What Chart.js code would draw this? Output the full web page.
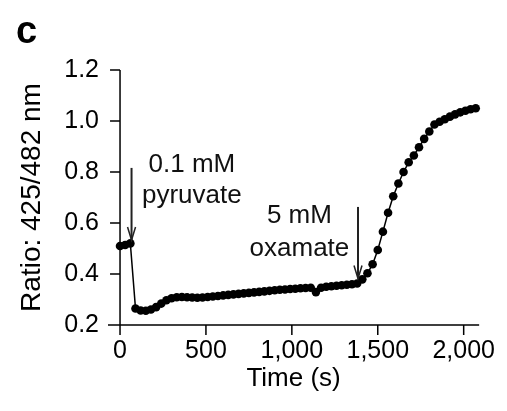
<!DOCTYPE html>
<html>
<head>
<meta charset="utf-8">
<script src="https://cdn.jsdelivr.net/npm/chart.js@4.4.1/dist/chart.umd.min.js"></script>
<style>
  html, body { margin: 0; padding: 0; background: #fff; }
</style>
</head>
<body>
<canvas id="chart" width="507" height="411"></canvas>
<script>
// time points (s) and 425/482 nm ratio
const timeSec = [
  0, 30, 60, 90, 120, 150, 180, 210, 240, 270,
  300, 330, 360, 390, 420, 450, 480, 510, 540, 570,
  600, 630, 660, 690, 720, 750, 780, 810, 840, 870,
  900, 930, 960, 990, 1020, 1050, 1080, 1110, 1140, 1170,
  1200, 1230, 1260, 1290, 1320, 1350, 1380, 1410, 1440, 1470,
  1500, 1530, 1560, 1590, 1620, 1650, 1680, 1710, 1740, 1770,
  1800, 1830, 1860, 1890, 1920, 1950, 1980, 2010, 2040, 2070
];
const ratio = [
  0.510, 0.514, 0.520, 0.265, 0.257, 0.256, 0.261, 0.270, 0.284, 0.297,
  0.305, 0.309, 0.310, 0.309, 0.308, 0.307, 0.308, 0.310, 0.312, 0.314,
  0.316, 0.318, 0.320, 0.322, 0.324, 0.326, 0.328, 0.330, 0.332, 0.334,
  0.336, 0.338, 0.339, 0.341, 0.342, 0.344, 0.345, 0.346, 0.329, 0.346,
  0.350, 0.352, 0.354, 0.356, 0.358, 0.360, 0.363, 0.379, 0.403, 0.438,
  0.494, 0.566, 0.640, 0.705, 0.755, 0.800, 0.838, 0.865, 0.897, 0.930,
  0.959, 0.986, 0.997, 1.007, 1.017, 1.026, 1.034, 1.040, 1.046, 1.050
];

const xTicks = [0, 500, 1000, 1500, 2000];
const xTickLabels = ['0', '500', '1,000', '1,500', '2,000'];
const yTicks = [0.2, 0.4, 0.6, 0.8, 1.0, 1.2];
const yTickLabels = ['0.2', '0.4', '0.6', '0.8', '1.0', '1.2'];

// additions marked by arrows (time, arrow top, arrow tip) and their labels
const additions = [
  { t: 67, top: 0.816, tip: 0.533, lines: ['0.1 mM', 'pyruvate'], labelT: 418, labelY: [0.800, 0.680] },
  { t: 1385, top: 0.663, tip: 0.382, lines: ['5 mM', 'oxamate'], labelT: 1044, labelY: [0.600, 0.470] }
];

const FONT = "'Liberation Sans', Arial, Helvetica, sans-serif";

const axesPlugin = {
  id: 'axesPlugin',
  beforeDatasetsDraw(chart) {
    const ctx = chart.ctx;
    const x = chart.scales.x, y = chart.scales.y;
    const x0 = x.getPixelForValue(0);
    const yb = y.getPixelForValue(0.2);
    const yt = y.getPixelForValue(1.2);
    ctx.save();
    ctx.strokeStyle = '#000';
    ctx.lineWidth = 1.5;
    ctx.beginPath();
    ctx.moveTo(x0, yt);
    ctx.lineTo(x0, yb);
    ctx.moveTo(x.left, yb);
    ctx.lineTo(x.right, yb);
    yTicks.forEach(v => {
      const p = y.getPixelForValue(v);
      ctx.moveTo(x0 - 10, p);
      ctx.lineTo(x0, p);
    });
    xTicks.forEach(v => {
      const p = x.getPixelForValue(v);
      ctx.moveTo(p, yb);
      ctx.lineTo(p, yb + 10);
    });
    ctx.stroke();
    ctx.restore();
  },
  afterDraw(chart) {
    const ctx = chart.ctx;
    const x = chart.scales.x, y = chart.scales.y;
    ctx.save();
    // panel letter
    ctx.fillStyle = '#000';
    ctx.font = 'bold 38px ' + FONT;
    ctx.textAlign = 'left';
    ctx.textBaseline = 'alphabetic';
    ctx.fillText('c', 16, 43);

    additions.forEach(a => {
      const px = x.getPixelForValue(a.t);
      const pTop = y.getPixelForValue(a.top);
      const pTip = y.getPixelForValue(a.tip);
      ctx.strokeStyle = '#222';
      ctx.lineWidth = 2;
      ctx.beginPath();
      ctx.moveTo(px, pTop);
      ctx.lineTo(px, pTip);
      ctx.stroke();
      ctx.lineWidth = 1.5;
      ctx.beginPath();
      ctx.moveTo(px - 4, pTip - 13);
      ctx.lineTo(px, pTip);
      ctx.lineTo(px + 4, pTip - 13);
      ctx.stroke();

      ctx.fillStyle = '#111';
      ctx.font = '26px ' + FONT;
      ctx.textAlign = 'center';
      a.lines.forEach((txt, i) => {
        ctx.fillText(txt, x.getPixelForValue(a.labelT), y.getPixelForValue(a.labelY[i]));
      });
    });
    ctx.restore();
  }
};

new Chart(document.getElementById('chart').getContext('2d'), {
  type: 'line',
  data: {
    datasets: [{
      data: timeSec.map((t, i) => ({ x: t, y: ratio[i] })),
      borderColor: '#000',
      borderWidth: 1.5,
      pointRadius: 4.3,
      pointBackgroundColor: '#000',
      pointBorderWidth: 0,
      tension: 0,
      clip: false
    }]
  },
  options: {
    responsive: false,
    animation: false,
    devicePixelRatio: 1,
    layout: { padding: { top: 70, right: 25, left: 0, bottom: 0 } },
    plugins: {
      legend: { display: false },
      tooltip: { enabled: false }
    },
    scales: {
      x: {
        type: 'linear',
        min: -70,
        max: 2090,
        grid: { display: false, drawTicks: false },
        border: { display: false },
        afterBuildTicks: s => { s.ticks = xTicks.map(v => ({ value: v })); },
        afterFit: s => { s.height = 86; },
        ticks: {
          padding: 11,
          color: '#000',
          maxRotation: 0,
          autoSkip: false,
          font: { family: FONT, size: 25 },
          callback: (v, i) => xTickLabels[i]
        },
        title: {
          display: true,
          text: 'Time (s)',
          color: '#000',
          font: { family: FONT, size: 26 },
          padding: { top: 0, bottom: 17 }
        }
      },
      y: {
        type: 'linear',
        min: 0.2,
        max: 1.2,
        grid: { display: false, drawTicks: false },
        border: { display: false },
        afterBuildTicks: s => { s.ticks = yTicks.map(v => ({ value: v })); },
        afterFit: s => { s.width = 108; },
        ticks: {
          padding: 9,
          color: '#000',
          font: { family: FONT, size: 25 },
          callback: (v, i) => yTickLabels[i]
        },
        title: {
          display: true,
          text: 'Ratio: 425/482 nm',
          color: '#000',
          font: { family: FONT, size: 28 },
          padding: { top: 15, bottom: 0 }
        }
      }
    }
  },
  plugins: [axesPlugin]
});
</script>
</body>
</html>
